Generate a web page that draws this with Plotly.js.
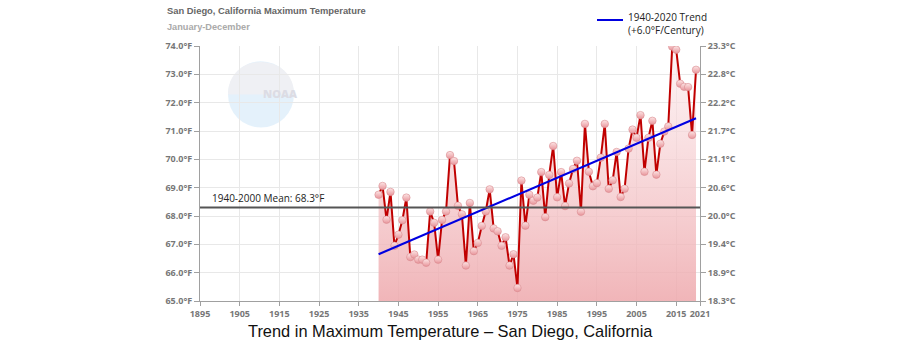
<!DOCTYPE html>
<html>
<head>
<meta charset="utf-8">
<script src="https://cdn.plot.ly/plotly-3.0.1.min.js"></script>
<style>html,body{margin:0;padding:0;background:#fff;}#chart{width:900px;height:353px;}</style>
</head>
<body>
<div id="chart"></div>
<script>
const years = [1940,1941,1942,1943,1944,1945,1946,1947,1948,1949,1950,1951,1952,1953,1954,1955,1956,1957,1958,1959,
1960,1961,1962,1963,1964,1965,1966,1967,1968,1969,1970,1971,1972,1973,1974,1975,1976,1977,1978,1979,
1980,1981,1982,1983,1984,1985,1986,1987,1988,1989,1990,1991,1992,1993,1994,1995,1996,1997,1998,1999,
2000,2001,2002,2003,2004,2005,2006,2007,2008,2009,2010,2011,2012,2013,2014,2015,2016,2017,2018,2019,2020];
const maxTempF = [68.75,69.06,67.87,68.85,66.95,67.34,67.85,68.65,66.55,66.64,66.46,66.46,66.35,68.16,67.76,66.46,67.86,68.16,70.15,69.94,
68.36,68.06,66.25,68.46,66.76,67.05,67.65,68.16,68.94,67.56,67.46,66.95,67.25,66.25,66.65,65.46,69.25,67.66,68.75,68.54,
68.65,69.55,67.96,69.45,70.47,68.66,69.55,68.35,69.15,69.66,69.95,68.15,71.25,69.56,69.05,69.16,70.06,71.25,68.96,69.26,
70.26,68.67,68.96,70.38,71.05,70.76,71.56,69.56,70.76,71.36,69.46,70.55,70.98,71.16,73.98,73.87,72.67,72.56,72.55,70.86,73.16];
const trendYears = [1940, 2020];
const trendF = [66.65, 71.45];
const meanF = 68.3;
const meanLabel = "1940-2000 Mean: 68.3°F";
const xTicks = [1895,1905,1915,1925,1935,1945,1955,1965,1975,1985,1995,2005,2015,2021];
const yTicksF = [65,66,67,68,69,70,71,72,73,74];
const yLabelsF = ["65.0°F","66.0°F","67.0°F","68.0°F","69.0°F","70.0°F","71.0°F","72.0°F","73.0°F","74.0°F"];
const yLabelsC = ["18.3°C","18.9°C","19.4°C","20.0°C","20.6°C","21.1°C","21.7°C","22.2°C","22.8°C","23.3°C"];
const chartTitle = "San Diego, California Maximum Temperature";
const chartSubtitle = "January-December";
const bottomTitle = "Trend in Maximum Temperature – San Diego, California";
const legendText = "1940-2020 Trend<br>(+6.0°F/Century)";

const tickFont = {family: "Open Sans, sans-serif", size: 9, color: "#777", weight: 700};

const traces = [
  {
    x: years, y: maxTempF, type: "scatter", mode: "lines+markers",
    fill: "tozeroy",
    fillgradient: {type: "vertical", start: 65, stop: 74,
      colorscale: [[0, "rgba(238,168,172,0.85)"], [1, "rgba(252,236,238,0.6)"]]},
    line: {color: "#c00000", width: 2},
    marker: {size: 7.5, color: "#fde6e6", line: {color: "#d98a8e", width: 0.6},
      gradient: {type: "vertical", color: "#e8949a"}},
    hoverinfo: "x+y", showlegend: false
  },
  {
    x: trendYears, y: trendF, type: "scatter", mode: "lines",
    line: {color: "#0000e0", width: 2}, showlegend: false
  },
  {
    x: [1895], y: [65], yaxis: "y2", type: "scatter", mode: "markers",
    marker: {opacity: 0}, showlegend: false, hoverinfo: "skip"
  }
];

const layout = {
  width: 900, height: 353,
  margin: {l: 200, r: 200, t: 46, b: 52},
  paper_bgcolor: "#fff", plot_bgcolor: "#fff",
  showlegend: false,
  xaxis: {
    range: [1895, 2021], tickvals: xTicks, ticktext: xTicks.map(String),
    showgrid: true, gridcolor: "#e8e8e8", gridwidth: 1,
    showline: true, linecolor: "#a0a0a0", linewidth: 1,
    ticks: "outside", ticklen: 4, tickcolor: "#a0a0a0",
    tickfont: tickFont, zeroline: false, fixedrange: true
  },
  yaxis: {
    range: [65, 74], tickvals: yTicksF, ticktext: yLabelsF,
    showgrid: true, gridcolor: "#e8e8e8", gridwidth: 1,
    showline: true, linecolor: "#a0a0a0", linewidth: 1,
    ticks: "outside", ticklen: 5, tickcolor: "#a0a0a0",
    tickfont: tickFont, zeroline: false
  },
  yaxis2: {
    range: [65, 74], overlaying: "y", side: "right", tickvals: yTicksF, ticktext: yLabelsC,
    showgrid: false, showline: true, linecolor: "#a0a0a0", linewidth: 1,
    ticks: "outside", ticklen: 5, tickcolor: "#a0a0a0",
    tickfont: tickFont, zeroline: false
  },
  shapes: [
    {type: "circle", xref: "paper", yref: "paper", x0: 0.056, x1: 0.188, y0: 0.68, y1: 0.94,
      fillcolor: "rgba(205,230,247,0.55)", line: {width: 0}, layer: "below"},
    {type: "path", xref: "paper", yref: "paper",
      path: "M 0.056 0.81 C 0.056 0.98, 0.188 0.98, 0.188 0.81 Z",
      fillcolor: "rgba(240,240,243,0.9)", line: {width: 0}, layer: "below"},
    {type: "line", xref: "paper", yref: "y", x0: 0, x1: 1, y0: meanF, y1: meanF,
      line: {color: "#555", width: 2}},
    {type: "line", xref: "paper", yref: "paper", x0: 0.794, x1: 0.846, y0: 1.102, y1: 1.102,
      line: {color: "#0000e0", width: 2}}
  ],
  annotations: [
    {text: "NOAA", xref: "paper", yref: "paper", x: 0.122, y: 0.85, showarrow: false,
      font: {family: "Open Sans, sans-serif", size: 11, color: "#dcdce4", weight: 800}},
    {text: chartTitle, xref: "paper", yref: "paper", x: -0.07, y: 1.141, xanchor: "left", yanchor: "middle",
      showarrow: false, font: {family: "Liberation Sans, Arial, sans-serif", size: 9.4, color: "#666", weight: 700}},
    {text: chartSubtitle, xref: "paper", yref: "paper", x: -0.07, y: 1.075, xanchor: "left", yanchor: "middle",
      showarrow: false, font: {family: "Liberation Sans, Arial, sans-serif", size: 9.2, color: "#aaa", weight: 700}},
    {text: meanLabel, xref: "paper", yref: "y", x: 0.02, y: meanF, xanchor: "left", yanchor: "bottom", yshift: 1,
      showarrow: false, font: {family: "Open Sans, sans-serif", size: 10, color: "#222"}},
    {text: legendText, xref: "paper", yref: "paper", x: 0.852, y: 1.088, xanchor: "left", yanchor: "middle",
      align: "left", showarrow: false, font: {family: "Open Sans, sans-serif", size: 10, color: "#222"}},
    {text: bottomTitle, xref: "paper", yref: "paper", x: 0.5, y: -0.118, xanchor: "center", yanchor: "middle",
      showarrow: false, font: {family: "Liberation Sans, Arial, sans-serif", size: 16.4, color: "#111"}}
  ]
};

Plotly.newPlot("chart", traces, layout, {displayModeBar: false, staticPlot: true});
</script>
</body>
</html>
